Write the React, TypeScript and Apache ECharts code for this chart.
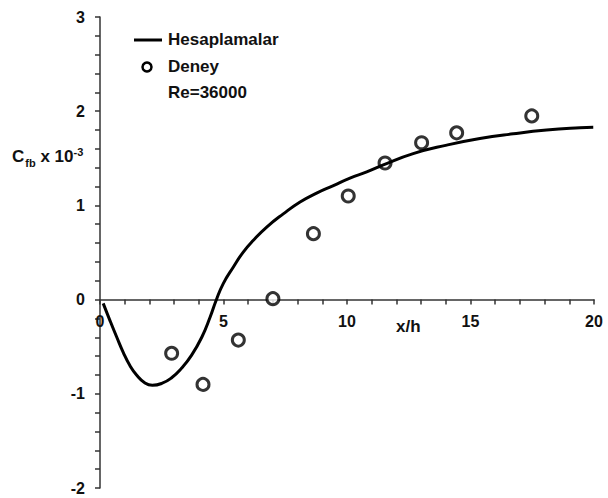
import React, { useEffect, useRef } from "react";
import * as echarts from "echarts";

const curveX = [0.13, 0.4, 0.68, 0.94, 1.21, 1.48, 1.82, 2.12, 2.5, 2.9, 3.3, 3.71, 4.12, 4.46, 4.7, 4.99, 5.4, 5.8, 6.21, 6.75, 7.42, 8.1, 8.77, 9.45, 10.12, 10.8, 11.47, 12.68, 14.04, 15.38, 16.73, 18.08, 19.43, 19.97];
const curveY = [-0.04, -0.22, -0.4, -0.56, -0.7, -0.8, -0.885, -0.91, -0.89, -0.83, -0.73, -0.59, -0.4, -0.185, -0.01, 0.17, 0.346, 0.505, 0.63, 0.77, 0.91, 1.036, 1.13, 1.21, 1.29, 1.355, 1.43, 1.55, 1.64, 1.71, 1.76, 1.8, 1.825, 1.83];
const expX = [2.9, 4.17, 5.6, 7.0, 8.64, 10.05, 11.54, 13.02, 14.44, 17.48];
const expY = [-0.57, -0.9, -0.43, 0.01, 0.7, 1.1, 1.45, 1.665, 1.77, 1.95];
const seriesNames = ["Hesaplamalar", "Deney"];
const noteText = "Re=36000";

const FONT = "'Liberation Sans', Arial, sans-serif";

export default function App() {
  const ref = useRef<HTMLDivElement>(null);
  useEffect(() => {
    document.body.style.margin = "0";
    const chart = echarts.init(ref.current!, null, { renderer: "svg" });
    const isInt = (v: number) => Math.abs(v - Math.round(v)) < 1e-6;
    const txt = { font: `bold 17px ${FONT}`, fill: "#111" };
    chart.setOption({
      animation: false,
      backgroundColor: "#fff",
      grid: { left: 100, right: 14, top: 17, bottom: 10, containLabel: false, outerBoundsMode: "none" },
      xAxis: {
        type: "value",
        min: 0,
        max: 20,
        interval: 1,
        splitLine: { show: false },
        axisLine: { onZero: true, lineStyle: { color: "#333", width: 1.5 } },
        axisTick: { inside: false, length: 5, lineStyle: { color: "#333", width: 1.5 } },
        axisLabel: {
          margin: 14,
          fontFamily: FONT,
          fontWeight: "bold",
          fontSize: 16,
          color: "#111",
          formatter: (v: number) => (isInt(v / 5) ? String(Math.round(v)) : ""),
        },
      },
      yAxis: {
        type: "value",
        min: -2,
        max: 3,
        interval: 0.2,
        splitLine: { show: false },
        axisLine: { show: true, onZero: false, lineStyle: { color: "#333", width: 1.5 } },
        axisTick: { show: true, inside: false, length: 5, lineStyle: { color: "#333", width: 1.5 } },
        axisLabel: {
          margin: 15,
          fontFamily: FONT,
          fontWeight: "bold",
          fontSize: 16,
          color: "#111",
          formatter: (v: number) => (isInt(v) ? String(Math.round(v)) : ""),
        },
      },
      graphic: [
        { type: "line", shape: { x1: 134, y1: 40, x2: 162, y2: 40 }, style: { stroke: "#000", lineWidth: 3 } },
        { type: "text", left: 168, top: 31, style: { text: seriesNames[0], ...txt } },
        { type: "circle", shape: { cx: 147, cy: 67, r: 4.5 }, style: { fill: "#fff", stroke: "#000", lineWidth: 2.5 } },
        { type: "text", left: 168, top: 58, style: { text: seriesNames[1], ...txt } },
        { type: "text", left: 168, top: 84, style: { text: noteText, ...txt } },
        { type: "text", left: 396, top: 318, style: { text: "x/h", ...txt } },
        {
          type: "text",
          left: 12,
          top: 146,
          style: {
            text: "{c|C}{s|fb}{c| x 10}{p|-3}",
            rich: {
              c: { font: `bold 17px ${FONT}`, fill: "#111", verticalAlign: "bottom" },
              s: { font: `bold 11px ${FONT}`, fill: "#111", verticalAlign: "bottom", padding: [0, 0, -3, 1] },
              p: { font: `bold 11px ${FONT}`, fill: "#111", verticalAlign: "top", padding: [-2, 0, 0, 0] },
            },
          },
        },
      ],
      series: [
        {
          name: seriesNames[0],
          type: "line",
          smooth: 0.5,
          symbol: "none",
          data: curveX.map((x, i) => [x, curveY[i]]),
          lineStyle: { color: "#000", width: 3 },
          itemStyle: { color: "#000" },
        },
        {
          name: seriesNames[1],
          type: "scatter",
          symbol: "circle",
          symbolSize: 12,
          data: expX.map((x, i) => [x, expY[i]]),
          itemStyle: { color: "#fff", borderColor: "#000", borderWidth: 3 },
        },
      ],
    });
    // Place x tick labels right under the zero line (where the axis line sits)
    const y0 = chart.convertToPixel({ yAxisIndex: 0 }, 0) as number;
    const yb = chart.convertToPixel({ yAxisIndex: 0 }, -2) as number;
    chart.setOption({ xAxis: { axisLabel: { margin: 14 - (yb - y0) } } });
    return () => chart.dispose();
  }, []);
  return <div ref={ref} style={{ width: 608, height: 498 }} />;
}
